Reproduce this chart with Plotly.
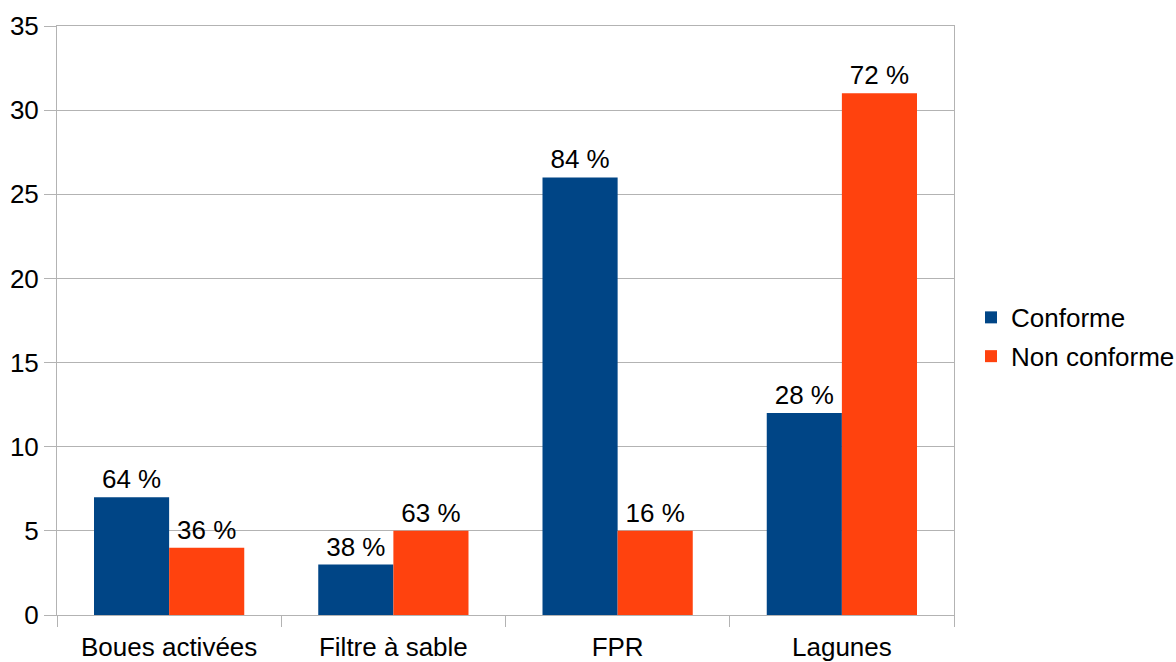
import plotly.graph_objects as go

categories = ["Boues activées", "Filtre à sable", "FPR", "Lagunes"]
conforme = [7, 3, 26, 12]
non_conforme = [4, 5, 5, 31]
conforme_labels = ["64 %", "38 %", "84 %", "28 %"]
non_conforme_labels = ["36 %", "63 %", "16 %", "72 %"]

FONT = "Liberation Sans, Arial, sans-serif"
FS = 26

fig = go.Figure()
fig.add_trace(go.Bar(
    x=categories, y=conforme, name="Conforme",
    marker=dict(color="#004586", line=dict(width=0)),
    text=conforme_labels, textposition="outside", cliponaxis=False,
    textfont=dict(family=FONT, size=FS, color="#000000"),
    legendgroup="a",
))
fig.add_trace(go.Bar(
    x=categories, y=non_conforme, name="Non conforme",
    marker=dict(color="#FF420E", line=dict(width=0)),
    text=non_conforme_labels, textposition="outside", cliponaxis=False,
    textfont=dict(family=FONT, size=FS, color="#000000"),
    legendgroup="b",
))

fig.update_layout(
    width=1176, height=662,
    margin=dict(l=57, r=222, t=26, b=47, autoexpand=False),
    paper_bgcolor="white", plot_bgcolor="white",
    font=dict(family=FONT, size=FS, color="#000000"),
    barmode="group", bargap=0.33, bargroupgap=0,
    uniformtext=dict(mode=False),
    legend=dict(
        xref="container", yref="container",
        x=0.8257, y=0.491, xanchor="left", yanchor="middle",
        font=dict(family=FONT, size=FS, color="#000000"),
        tracegroupgap=2, itemwidth=30,
        bgcolor="rgba(0,0,0,0)",
    ),
    showlegend=True,
)
fig.update_xaxes(
    type="category", automargin=False,
    showline=True, linecolor="#b3b3b3", linewidth=1, mirror=True,
    ticks="outside", tickson="boundaries", ticklen=11, tickcolor="#b3b3b3",
    ticklabelstandoff=9,
    showgrid=False,
    tickfont=dict(family=FONT, size=FS, color="#000000"),
)
fig.update_yaxes(
    range=[0, 35], dtick=5, tick0=0, automargin=False,
    showline=True, linecolor="#b3b3b3", linewidth=1, mirror=True,
    ticks="outside", ticklen=12, tickcolor="#b3b3b3",
    showgrid=True, gridcolor="#b3b3b3", gridwidth=1,
    zeroline=False,
    tickfont=dict(family=FONT, size=FS, color="#000000"),
)

fig.write_html("out.html")
